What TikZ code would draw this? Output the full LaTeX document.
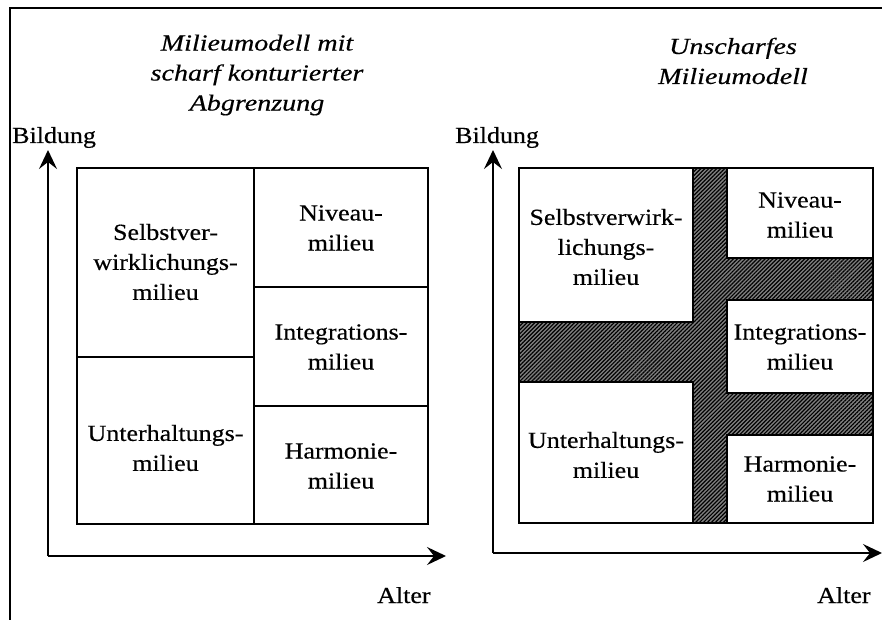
\documentclass[tikz,border=0pt]{standalone}
\usepackage{fontspec}
\setmainfont{Liberation Serif}[FakeStretch=1.13,FakeBold=0.4]
\newfontfamily\titlefont{Liberation Serif}[FakeStretch=1.22,FakeBold=0.4]
\usetikzlibrary{arrows.meta,patterns.meta}

\tikzset{
  field/.style={draw=black, line width=1.3pt, fill=white},
  divider/.style={draw=black, line width=1.2pt},
  label/.style={align=center, inner sep=0pt, font=\fontsize{23}{30}\selectfont},
  heading/.style={align=center, inner sep=0pt, font=\titlefont\itshape\fontsize{23}{30}\selectfont},
  axislabel/.style={inner sep=0pt, font=\fontsize{23}{30}\selectfont},
  axis/.style={line width=1.7pt, -{Stealth[length=19pt,width=18pt,inset=7pt]}},
  blur zone/.style={fill=black!50,
    postaction={pattern={Lines[angle=45,distance=2.8pt,line width=1.2pt]}, pattern color=black}},
}

\begin{document}
\begin{tikzpicture}[x=1pt,y=-1pt]
\useasboundingbox (0,0) rectangle (882,620);

% outer frame (top and left edge only)
\draw[line width=1.4pt] (10,620) -- (10,8) -- (882,8);

% ---------------- left panel: sharply bounded model ----------------
\node[heading] (titleL) at (257,75) {Milieumodell mit\\scharf konturierter\\Abgrenzung};

\coordinate (oL) at (48,556);
\coordinate (yL) at (48,150);
\coordinate (xL) at (446,556);
\draw[axis] (oL) -- (yL);
\draw[axis] (oL) -- (xL);
\node[axislabel, anchor=base west] (bildL) at (12,143) {Bildung};
\node[axislabel, anchor=base west] (alterL) at (377,603) {Alter};

\draw[field] (77,168) rectangle (428,524);
\coordinate (vTop) at (254,168);
\coordinate (vBot) at (254,524);
\coordinate (hL1) at (77,357);
\coordinate (hL2) at (254,357);
\coordinate (hR1a) at (254,287);
\coordinate (hR1b) at (428,287);
\coordinate (hR2a) at (254,406);
\coordinate (hR2b) at (428,406);
\draw[divider] (vTop) -- (vBot);
\draw[divider] (hL1) -- (hL2);
\draw[divider] (hR1a) -- (hR1b);
\draw[divider] (hR2a) -- (hR2b);

\node[label] (selbstL) at (165.5,262) {Selbstver-\\wirklichungs-\\milieu};
\node[label] (unterL)  at (165.5,448) {Unterhaltungs-\\milieu};
\node[label] (niveauL) at (341,228) {Niveau-\\milieu};
\node[label] (integL)  at (341,347) {Integrations-\\milieu};
\node[label] (harmL)   at (341,466) {Harmonie-\\milieu};

% ---------------- right panel: fuzzy model ----------------
\node[heading] (titleR) at (733,61) {Unscharfes\\Milieumodell};

\coordinate (oR) at (493,553);
\coordinate (yR) at (493,150);
\coordinate (xR) at (882,553);
\draw[axis] (oR) -- (yR);
\draw[axis] (oR) -- (xR);
\node[axislabel, anchor=base west] (bildR) at (455,143) {Bildung};
\node[axislabel, anchor=base west] (alterR) at (817,603) {Alter};

% blurred transition zone behind the milieu fields
\draw[blur zone, line width=1.3pt] (519,168) rectangle (873,523);

\draw[field] (519,168) rectangle (693,322);
\draw[field] (519,382) rectangle (693,523);
\draw[field] (727,168) rectangle (873,258);
\draw[field] (727,300) rectangle (873,393);
\draw[field] (727,435) rectangle (873,523);

\node[label] (selbstR) at (606,247) {Selbstverwirk-\\lichungs-\\milieu};
\node[label] (unterR)  at (606,455) {Unterhaltungs-\\milieu};
\node[label] (niveauR) at (800,215) {Niveau-\\milieu};
\node[label] (integR)  at (800,347) {Integrations-\\milieu};
\node[label] (harmR)   at (800,479) {Harmonie-\\milieu};
\end{tikzpicture}
\end{document}
